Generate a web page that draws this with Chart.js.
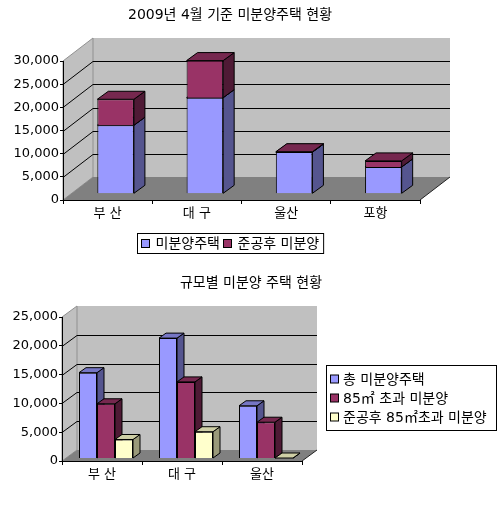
<!DOCTYPE html>
<html>
<head>
<meta charset="utf-8">
<script src="https://cdn.jsdelivr.net/npm/chart.js@4.4.1/dist/chart.umd.min.js"></script>
<style>
html, body { margin: 0; padding: 0; background: #fff; }
#wrap { position: relative; width: 500px; height: 521px; }
#c1 { position: absolute; left: 0; top: 0; }
#c2 { position: absolute; left: 0; top: 260px; }
</style>
</head>
<body>
<div id="wrap">
  <canvas id="c1" width="500" height="260"></canvas>
  <canvas id="c2" width="500" height="261"></canvas>
</div>
<script>
/* ===== Data ===== */
const CITIES = ['부 산', '대 구', '울산', '포항'];
const UNSOLD = [14800, 20750, 9000, 5800];        // 미분양주택
const UNSOLD_DONE = [5600, 8000, 80, 1300];       // 준공후 미분양

const SIZE_CITIES = ['부 산', '대 구', '울산'];
const SIZE_TOTAL = [14900, 20900, 9150];          // 총 미분양주택
const SIZE_OVER85 = [9500, 13300, 6300];          // 85㎡ 초과 미분양
const SIZE_OVER85_DONE = [3300, 4650, 60];        // 준공후 85㎡초과 미분양

const TOP_TICKS_MAX = 30000;
const SIZE_TICKS_MAX = 25000;

/* ===== Look ===== */
const FONT = '"DejaVu Sans", "Noto Sans CJK KR", sans-serif';
const COLORS = {
    blue:   { front: '#9999ff', side: '#55558f', top: '#7676c4' },
    maroon: { front: '#993366', side: '#4f1a35', top: '#76284f' },
    yellow: { front: '#ffffcc', side: '#9a9a7a', top: '#cfcfa6' },
};

function poly(ctx, pts, fill, stroke) {
    ctx.beginPath();
    ctx.moveTo(pts[0][0], pts[0][1]);
    for (let i = 1; i < pts.length; i++) ctx.lineTo(pts[i][0], pts[i][1]);
    ctx.closePath();
    if (fill) { ctx.fillStyle = fill; ctx.fill(); }
    if (stroke) { ctx.strokeStyle = stroke; ctx.lineWidth = 1; ctx.stroke(); }
}

/* ===== Fake 3D: walls, floor, bar sides & tops ===== */
const fake3d = {
    id: 'fake3d',
    beforeDraw(chart, args, o) {
        const { ctx, chartArea: a, scales: { y } } = chart;
        const { wx, wy } = o.wall;
        ctx.save();
        ctx.fillStyle = '#c0c0c0';
        ctx.fillRect(a.left + wx, a.top + wy, a.right - a.left, a.bottom - a.top);
        poly(ctx, [[a.left, a.top], [a.left + wx, a.top + wy], [a.left + wx, a.bottom + wy], [a.left, a.bottom]], '#c0c0c0', '#909090');
        poly(ctx, [[a.left, a.bottom], [a.left + wx, a.bottom + wy], [a.right + wx, a.bottom + wy], [a.right, a.bottom]], '#808080', null);
        ctx.strokeStyle = '#000';
        ctx.lineWidth = 1;
        y.ticks.forEach(t => {
            if (t.value === 0 || t.value === y.max) return;
            const py = Math.round(y.getPixelForValue(t.value)) + 0.5;
            ctx.beginPath();
            ctx.moveTo(a.left, py);
            ctx.lineTo(a.left + wx, py + wy);
            ctx.lineTo(a.right + wx, py + wy);
            ctx.stroke();
        });
        ctx.beginPath();
        ctx.moveTo(a.right, a.bottom);
        ctx.lineTo(a.right + wx, a.bottom + wy);
        ctx.strokeStyle = '#222';
        ctx.stroke();
        ctx.restore();
    },
    // skip default drawing, bars are drawn below in dataset order with their faces
    beforeDatasetDraw() {
        return false;
    },
    afterDatasetsDraw(chart, args, o) {
        const { ctx } = chart;
        const { ox, oy, bx, by } = o.bar;
        ctx.save();
        ctx.translate(ox, oy);
        chart.data.datasets.forEach((ds, i) => {
            chart.getDatasetMeta(i).data.forEach(el => {
                el.draw(ctx, chart.chartArea);
                const { x, y, base, width } = el.getProps(['x', 'y', 'base', 'width'], true);
                const l = x - width / 2, r = x + width / 2;
                const t = Math.min(y, base), b = Math.max(y, base);
                poly(ctx, [[r, b], [r + bx, b + by], [r + bx, t + by], [r, t]], ds.sideColor, '#000');
                poly(ctx, [[l, t], [r, t], [r + bx, t + by], [l + bx, t + by]], ds.topColor, '#000');
            });
        });
        ctx.restore();
    }
};

/* ===== Title + boxed legend ===== */
const deco = {
    id: 'deco',
    afterDraw(chart, args, o) {
        const { ctx } = chart;
        ctx.save();
        ctx.fillStyle = '#000';
        ctx.font = '14px ' + FONT;
        ctx.textAlign = 'center';
        ctx.textBaseline = 'middle';
        ctx.fillText(o.title.text, o.title.x, o.title.y);

        const lg = o.legend;
        ctx.font = '14px ' + FONT;
        ctx.textAlign = 'left';
        const items = chart.data.datasets.map(d => ({ label: d.label, color: d.backgroundColor, w: ctx.measureText(d.label).width }));
        const sw = 8, sep = 4;
        let bw, bh;
        if (lg.horizontal) {
            const gap = 6, pad = 3;
            const inner = items.reduce((s, it) => s + sw + gap + it.w, 0) + sep * (items.length - 1);
            bw = inner + pad * 2 + 2; bh = lg.h;
            const x0 = Math.round(lg.cx - bw / 2) + 0.5;
            ctx.strokeStyle = '#000';
            ctx.strokeRect(x0, lg.y + 0.5, bw, bh);
            let x = Math.round(x0 + pad) + 0.5;
            const cy = Math.round(lg.y + bh / 2) - 3.5;
            items.forEach(it => {
                ctx.fillStyle = it.color;
                ctx.fillRect(x, cy, sw, sw);
                ctx.strokeRect(x, cy, sw, sw);
                ctx.fillStyle = '#000';
                ctx.fillText(it.label, x + sw + gap, cy + 5);
                x += Math.round(sw + gap + it.w + sep);
            });
        } else {
            const gap = 4, pad = 4;
            bw = lg.w; bh = lg.rowH * items.length + pad * 2;
            ctx.strokeStyle = '#000';
            ctx.strokeRect(lg.x + 0.5, lg.y + 0.5, bw, bh);
            items.forEach((it, i) => {
                const cy = lg.y + pad + lg.rowH * (i + 0.5) + 0.5;
                const x = lg.x + pad;
                ctx.fillStyle = it.color;
                ctx.fillRect(x + 0.5, cy - sw / 2, sw, sw);
                ctx.strokeRect(x + 0.5, cy - sw / 2, sw, sw);
                ctx.fillStyle = '#000';
                ctx.fillText(it.label, x + sw + gap + 1, cy + 1);
            });
        }
        ctx.restore();
    }
};

function axes(max, yWidth, xHeight, stacked) {
    const tickFont = { family: FONT, size: 13 };
    return {
        x: {
            stacked,
            grid: { drawOnChartArea: false, color: '#000', tickLength: 4, offset: true },
            border: { color: '#000' },
            ticks: { color: '#000', font: tickFont, padding: 2 },
            afterFit: s => { s.height = xHeight; }
        },
        y: {
            stacked,
            min: 0, max,
            grid: { drawOnChartArea: false, color: '#000', tickLength: 3 },
            border: { color: '#000' },
            ticks: { stepSize: 5000, color: '#000', font: tickFont, padding: 1, callback: v => v.toLocaleString('en-US') },
            afterFit: s => { s.width = yWidth; }
        }
    };
}

function bar(label, data, c) {
    return {
        label, data,
        backgroundColor: c.front, sideColor: c.side, topColor: c.top,
        borderColor: '#000', borderWidth: 1, clip: false
    };
}

/* ===== Chart 1: 2009년 4월 기준 미분양주택 현황 ===== */
new Chart(document.getElementById('c1'), {
    type: 'bar',
    data: {
        labels: CITIES,
        datasets: [
            { ...bar('미분양주택', UNSOLD, COLORS.blue), barPercentage: 0.41, categoryPercentage: 1 },
            { ...bar('준공후 미분양', UNSOLD_DONE, COLORS.maroon), barPercentage: 0.41, categoryPercentage: 1 }
        ]
    },
    options: {
        responsive: false,
        animation: false,
        layout: { padding: { left: 0, right: 80, top: 61, bottom: 0 } },
        plugins: {
            legend: { display: false },
            tooltip: { enabled: false },
            fake3d: { wall: { wx: 30, wy: -23 }, bar: { ox: 8, oy: -6.2, bx: 11, by: -8 } },
            deco: {
                title: { text: '2009년 4월 기준 미분양주택 현황', x: 230, y: 15 },
                legend: { horizontal: true, cx: 230, y: 233, h: 20 }
            }
        },
        scales: axes(TOP_TICKS_MAX, 63, 60, true)
    },
    plugins: [fake3d, deco]
});

/* ===== Chart 2: 규모별 미분양 주택 현황 ===== */
new Chart(document.getElementById('c2'), {
    type: 'bar',
    data: {
        labels: SIZE_CITIES,
        datasets: [
            { ...bar('총 미분양주택', SIZE_TOTAL, COLORS.blue), barPercentage: 1, categoryPercentage: 0.675 },
            { ...bar('85㎡ 초과 미분양', SIZE_OVER85, COLORS.maroon), barPercentage: 1, categoryPercentage: 0.675 },
            { ...bar('준공후 85㎡초과 미분양', SIZE_OVER85_DONE, COLORS.yellow), barPercentage: 1, categoryPercentage: 0.675 }
        ]
    },
    options: {
        responsive: false,
        animation: false,
        layout: { padding: { left: 0, right: 198, top: 57, bottom: 0 } },
        plugins: {
            legend: { display: false },
            tooltip: { enabled: false },
            fake3d: { wall: { wx: 15, wy: -11 }, bar: { ox: 4, oy: -2.5, bx: 7, by: -5 } },
            deco: {
                title: { text: '규모별 미분양 주택 현황', x: 251, y: 23 },
                legend: { horizontal: false, x: 326, y: 105, w: 170, rowH: 19 }
            }
        },
        scales: axes(SIZE_TICKS_MAX, 62, 60, false)
    },
    plugins: [fake3d, deco]
});
</script>
</body>
</html>
